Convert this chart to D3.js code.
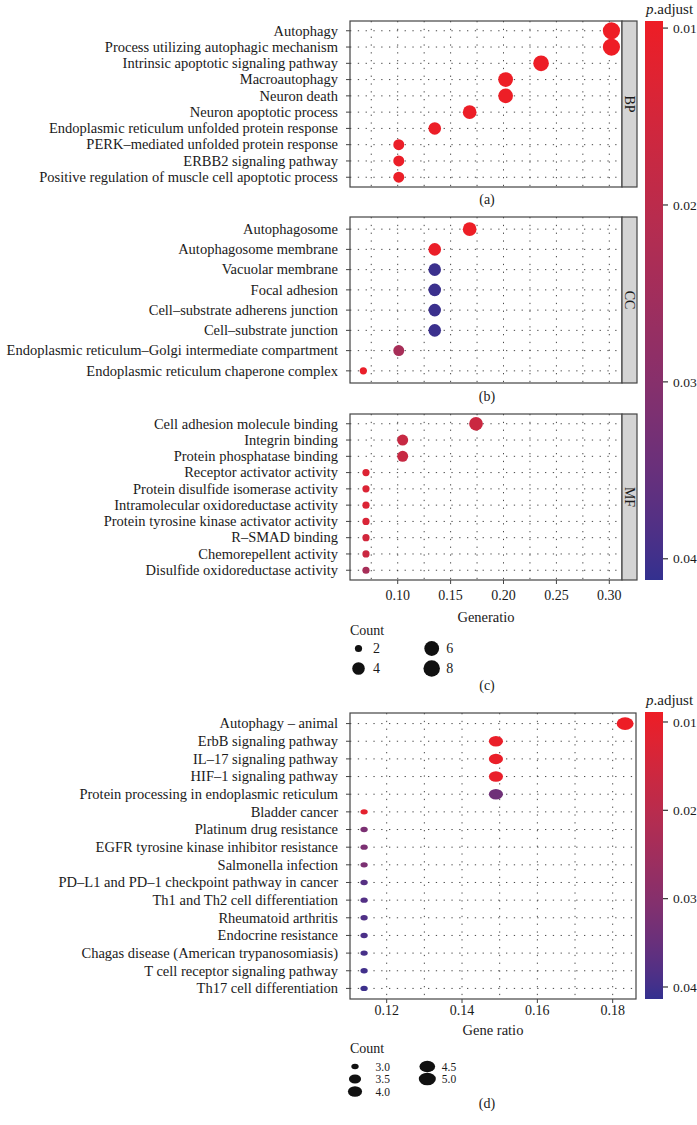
<!DOCTYPE html>
<html><head><meta charset="utf-8">
<script src="https://cdn.jsdelivr.net/npm/d3@7"></script>
<style>
body{margin:0;background:#fff}
svg{display:block}
text{font-family:"Liberation Serif","Times New Roman",serif;fill:#1a1a1a}
</style>
</head><body>
<svg id="c" width="697" height="1125"></svg>
<script>
// ---------------- DATA ----------------
const bpTerms = ["Autophagy","Process utilizing autophagic mechanism","Intrinsic apoptotic signaling pathway","Macroautophagy","Neuron death","Neuron apoptotic process","Endoplasmic reticulum unfolded protein response","PERK–mediated unfolded protein response","ERBB2 signaling pathway","Positive regulation of muscle cell apoptotic process"];
const bpRatio = [0.302,0.302,0.2355,0.202,0.202,0.168,0.135,0.101,0.101,0.101];
const bpCount = [9,9,7,6,6,5,4,3,3,3];
const bpPadj  = [0.0096,0.0096,0.0098,0.0099,0.0099,0.0100,0.0101,0.0102,0.0102,0.0103];

const ccTerms = ["Autophagosome","Autophagosome membrane","Vacuolar membrane","Focal adhesion","Cell–substrate adherens junction","Cell–substrate junction","Endoplasmic reticulum–Golgi intermediate compartment","Endoplasmic reticulum chaperone complex"];
const ccRatio = [0.168,0.135,0.135,0.135,0.135,0.135,0.101,0.0675];
const ccCount = [5,4,4,4,4,4,3,2];
const ccPadj  = [0.0099,0.0102,0.0405,0.0405,0.0405,0.0405,0.0240,0.0105];

const mfTerms = ["Cell adhesion molecule binding","Integrin binding","Protein phosphatase binding","Receptor activator activity","Protein disulfide isomerase activity","Intramolecular oxidoreductase activity","Protein tyrosine kinase activator activity","R–SMAD binding","Chemorepellent activity","Disulfide oxidoreductase activity"];
const mfRatio = [0.174,0.1047,0.1047,0.070,0.070,0.070,0.070,0.070,0.070,0.070];
const mfCount = [5,3,3,2,2,2,2,2,2,2];
const mfPadj  = [0.0170,0.0175,0.0175,0.0130,0.0135,0.0135,0.0140,0.0155,0.0170,0.0240];

const keggTerms = ["Autophagy – animal","ErbB signaling pathway","IL–17 signaling pathway","HIF–1 signaling pathway","Protein processing in endoplasmic reticulum","Bladder cancer","Platinum drug resistance","EGFR tyrosine kinase inhibitor resistance","Salmonella infection","PD–L1 and PD–1 checkpoint pathway in cancer","Th1 and Th2 cell differentiation","Rheumatoid arthritis","Endocrine resistance","Chagas disease (American trypanosomiasis)","T cell receptor signaling pathway","Th17 cell differentiation"];
const keggRatio = [0.1833,0.149,0.149,0.149,0.149,0.114,0.114,0.114,0.114,0.114,0.114,0.114,0.114,0.114,0.114,0.114];
const keggCount = [5,4,4,4,4,3,3,3,3,3,3,3,3,3,3,3];
const keggPadj  = [0.0090,0.0098,0.0098,0.0100,0.0340,0.0110,0.0320,0.0320,0.0320,0.0375,0.0380,0.0385,0.0390,0.0395,0.0400,0.0405];

const goXTicks   = [0.10,0.15,0.20,0.25,0.30];
const keggXTicks = [0.12,0.14,0.16,0.18];
const pTicks     = [0.01,0.02,0.03,0.04];
const goCountLegend   = [2,4,6,8];
const keggCountLegend = [3.0,3.5,4.0,4.5,5.0];

// ---------------- DRAW ----------------
const svg = d3.select("#c");
const RED = "#EE1D25", BLUE = "#33308F";
const FS = 14.5;     // category labels
const TFS = 14;      // tick labels

function colorScale(dom){
  return d3.scaleLinear().domain(dom).range([RED,BLUE]).interpolate(d3.interpolateLab).clamp(true);
}
function sizeScale(minV,maxV,rMin,rMax){
  const s = d3.scaleLinear().domain([0,1]).range([rMin,rMax]);
  return v => s(Math.sqrt(Math.max(0,(v-minV)/(maxV-minV))));
}

function drawPanel(d, x, top, bottom, xMinor, col, size, aspect, strip, xLabelY){
  const g = svg.append("g");
  const [x0,x1] = x.range();
  const y = d3.scalePoint().domain(d.terms).range([top,bottom]).padding(0.6);
  const dash = "1.3,6.5";
  const vlines = xMinor.concat(x.__ticks).filter(v => x(v)>x0+1 && x(v)<x1-1);
  g.selectAll(".vg").data(vlines).join("line")
    .attr("x1",v=>x(v)).attr("x2",v=>x(v)).attr("y1",top).attr("y2",bottom)
    .attr("stroke","#333").attr("stroke-width",0.9).attr("stroke-dasharray",dash);
  g.selectAll(".hg").data(d.terms).join("line")
    .attr("x1",x0).attr("x2",x1).attr("y1",t=>y(t)).attr("y2",t=>y(t))
    .attr("stroke","#333").attr("stroke-width",0.9).attr("stroke-dasharray",dash);
  g.selectAll(".dot").data(d.terms.map((t,i)=>({t,r:d.ratio[i],c:d.count[i],p:d.padj[i]})))
    .join("ellipse")
    .attr("cx",o=>x(o.r)).attr("cy",o=>y(o.t))
    .attr("rx",o=>size(o.c)*aspect).attr("ry",o=>size(o.c))
    .attr("fill",o=>col(o.p));
  g.append("rect").attr("x",x0).attr("y",top).attr("width",x1-x0).attr("height",bottom-top)
    .attr("fill","none").attr("stroke","#444").attr("stroke-width",1.2);
  g.selectAll(".yl").data(d.terms).join("text")
    .attr("x",x0-12).attr("y",t=>y(t)).attr("dy","0.33em").attr("text-anchor","end")
    .attr("font-size",FS).text(t=>t);
  g.selectAll(".yt").data(d.terms).join("line")
    .attr("x1",x0-4).attr("x2",x0).attr("y1",t=>y(t)).attr("y2",t=>y(t))
    .attr("stroke","#444").attr("stroke-width",1);
  if (strip){
    g.append("rect").attr("x",x1).attr("y",top).attr("width",15).attr("height",bottom-top)
      .attr("fill","#D4D4D4").attr("stroke","#444").attr("stroke-width",1.2);
    const cy = (top+bottom)/2;
    g.append("text").attr("transform",`translate(${x1+7.5},${cy}) rotate(90)`)
      .attr("text-anchor","middle").attr("dy","0.35em").attr("font-size",14).attr("fill","#333").text(strip);
  }
  if (xLabelY){
    g.selectAll(".xt").data(x.__ticks).join("line")
      .attr("x1",v=>x(v)).attr("x2",v=>x(v)).attr("y1",bottom).attr("y2",bottom+4)
      .attr("stroke","#444").attr("stroke-width",1);
    g.selectAll(".xl").data(x.__ticks).join("text")
      .attr("x",v=>x(v)).attr("y",xLabelY).attr("text-anchor","middle")
      .attr("font-size",TFS).text(v=>d3.format(".2f")(v));
  }
  return g;
}

function colorbar(id, x, top, bottom, dom, col){
  const grad = svg.append("defs").append("linearGradient").attr("id",id)
    .attr("x1",0).attr("y1",0).attr("x2",0).attr("y2",1);
  d3.range(0,1.0001,0.05).forEach(f=>{
    grad.append("stop").attr("offset",f).attr("stop-color",col(dom[0]+f*(dom[1]-dom[0])));
  });
  svg.append("rect").attr("x",x).attr("y",top).attr("width",18).attr("height",bottom-top)
    .attr("fill",`url(#${id})`);
  const yc = d3.scaleLinear().domain(dom).range([top,bottom]);
  svg.selectAll(`.tk${id}`).data(pTicks).join("line")
    .attr("x1",x+18).attr("x2",x+23).attr("y1",v=>yc(v)).attr("y2",v=>yc(v))
    .attr("stroke","#333").attr("stroke-width",1.2);
  svg.selectAll(`.tl${id}`).data(pTicks).join("text")
    .attr("x",x+28).attr("y",v=>yc(v)).attr("dy","0.35em").attr("font-size",13.5).text(v=>d3.format(".2f")(v));
  const t = svg.append("text").attr("x",x+1).attr("y",top-7).attr("font-size",15);
  t.append("tspan").attr("font-style","italic").text("p");
  t.append("tspan").text(".adjust");
}

// ---- GO chart ----
const goDom = [0.0096,0.0412];
const goCol = colorScale(goDom);
const goSize = sizeScale(2,9,3.6,8.6);
const xGo = d3.scaleLinear().domain([0.0549,0.3120]).range([350,622]);
xGo.__ticks = goXTicks;
const goMinor = d3.range(goXTicks.length+1).map(i => goXTicks[0] - 0.025 + i*0.05);

drawPanel({terms:bpTerms,ratio:bpRatio,count:bpCount,padj:bpPadj}, xGo, 21, 187, goMinor, goCol, goSize, 1, "BP", null);
drawPanel({terms:ccTerms,ratio:ccRatio,count:ccCount,padj:ccPadj}, xGo, 217, 383, goMinor, goCol, goSize, 1, "CC", null);
drawPanel({terms:mfTerms,ratio:mfRatio,count:mfCount,padj:mfPadj}, xGo, 414, 580, goMinor, goCol, goSize, 1, "MF", 600);
colorbar("gGo", 645, 21, 580, goDom, goCol);

svg.append("text").attr("x",486).attr("y",622).attr("text-anchor","middle").attr("font-size",14.5).text("Generatio");
[["(a)",204],["(b)",401],["(c)",690]].forEach(([s,yy])=>
  svg.append("text").attr("x",487).attr("y",yy).attr("text-anchor","middle").attr("font-size",14).text(s));

// GO count legend
svg.append("text").attr("x",350).attr("y",635).attr("font-size",14).text("Count");
goCountLegend.forEach((v,i)=>{
  const cx = i<2 ? 358.5 : 431.7, cy = i%2===0 ? 648.5 : 668.5;
  svg.append("circle").attr("cx",cx).attr("cy",cy).attr("r",goSize(v)).attr("fill","#111");
  svg.append("text").attr("x",cx+14.5).attr("y",cy).attr("dy","0.35em").attr("font-size",14).text(v);
});

// ---- KEGG chart ----
const kgDom = [0.00887,0.04136];
const kgCol = colorScale(kgDom);
const kgSize = sizeScale(3,5,2.7,6.3);
const xKg = d3.scaleLinear().domain([0.11026,0.18619]).range([350,636]);
xKg.__ticks = keggXTicks;
const kgMinor = d3.range(keggXTicks.length+1).map(i => keggXTicks[0] - 0.01 + i*0.02);
drawPanel({terms:keggTerms,ratio:keggRatio,count:keggCount,padj:keggPadj}, xKg, 713, 999, kgMinor, kgCol, kgSize, 1.35, null, 1015);
colorbar("gKg", 645, 712, 999, kgDom, kgCol);
svg.append("text").attr("x",493).attr("y",1035).attr("text-anchor","middle").attr("font-size",14.5).text("Gene ratio");
svg.append("text").attr("x",487).attr("y",1108).attr("text-anchor","middle").attr("font-size",14).text("(d)");

svg.append("text").attr("x",350).attr("y",1053).attr("font-size",14).text("Count");
keggCountLegend.forEach((v,i)=>{
  const colI = i<3 ? 0 : 1, row = i<3 ? i : i-3;
  const cx = colI===0 ? 355 : 427.3;
  const cy = [1066.5,1079,1091.5][row];
  svg.append("ellipse").attr("cx",cx).attr("cy",cy).attr("rx",kgSize(v)*1.35).attr("ry",kgSize(v)).attr("fill","#111");
  svg.append("text").attr("x",cx+(colI===0?20.5:14.5)).attr("y",cy).attr("dy","0.35em").attr("font-size",11.5).text(d3.format(".1f")(v));
});
</script>
</body></html>
